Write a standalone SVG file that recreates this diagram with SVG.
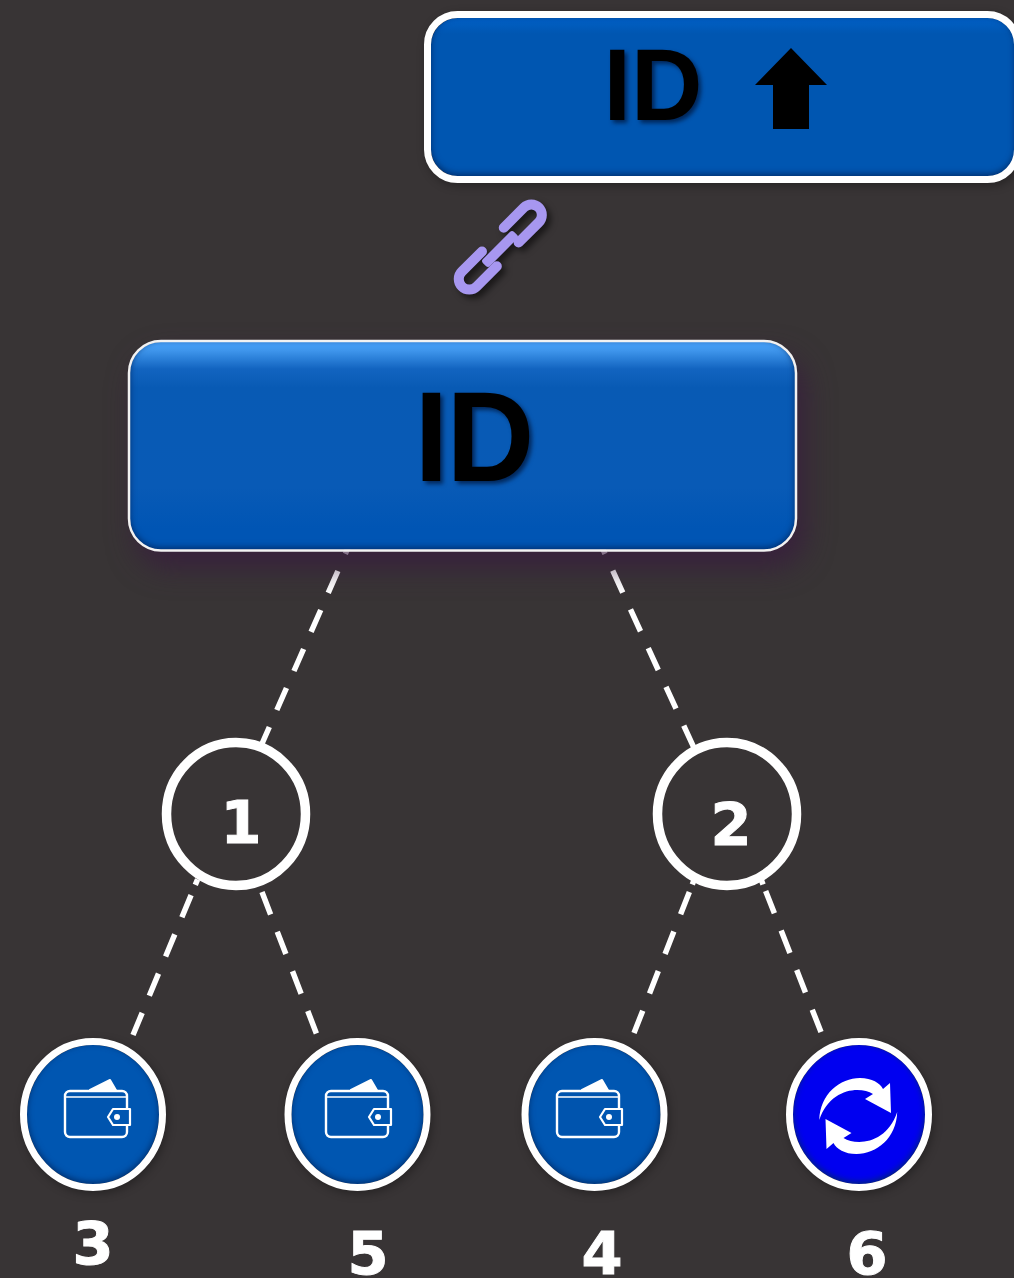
<svg xmlns="http://www.w3.org/2000/svg" xmlns:xlink="http://www.w3.org/1999/xlink" width="1014" height="1278" viewBox="0 0 1014 1278">
<style>
.conn{fill:none;stroke:#fff;stroke-width:5.5}
.dig{font-family:"DejaVu Sans",sans-serif;font-weight:700;font-size:59px;fill:#fff;stroke:#fff;stroke-width:1;text-anchor:middle}
.idt{font-family:"Liberation Sans",Arial,sans-serif;font-weight:700;fill:#000;text-anchor:middle;filter:url(#ts)}
.fill{filter:url(#inset)}
.rim{fill:none;stroke:#fff;stroke-width:7}
.ring{fill:#383435;stroke:#fff;stroke-width:9.5}
.lk{fill:none;stroke:#a797f0;stroke-width:10;stroke-linecap:round}
filter{color-interpolation-filters:sRGB}
</style>
<defs>
<linearGradient id="gTop" x1="0" y1="0" x2="0" y2="1">
<stop offset="0" stop-color="#0060c6"/><stop offset=".1" stop-color="#0056b1"/><stop offset="1" stop-color="#0056b1"/>
</linearGradient>
<linearGradient id="gMain" x1="0" y1="0" x2="0" y2="1">
<stop offset="0" stop-color="#4aa5ff"/><stop offset=".04" stop-color="#3f96ec"/><stop offset=".13" stop-color="#1264c0"/><stop offset=".22" stop-color="#085ab4"/><stop offset=".7" stop-color="#085ab6"/><stop offset=".9" stop-color="#0055b4"/><stop offset="1" stop-color="#0055b4"/>
</linearGradient>
<filter id="inset" x="-10%" y="-10%" width="120%" height="120%">
<feComponentTransfer in="SourceAlpha" result="inv"><feFuncA type="table" tableValues="1 0"/></feComponentTransfer>
<feGaussianBlur in="inv" stdDeviation="3" result="b"/>
<feOffset in="b" dy="-2" result="o"/>
<feFlood flood-color="#002a66" flood-opacity=".9"/>
<feComposite in2="o" operator="in" result="c"/>
<feComposite in="c" in2="SourceAlpha" operator="in" result="ins"/>
<feMerge><feMergeNode in="SourceGraphic"/><feMergeNode in="ins"/></feMerge>
</filter>
<filter id="ts" x="-20%" y="-20%" width="140%" height="140%"><feDropShadow dx="3" dy="3" stdDeviation="2" flood-color="#001a44" flood-opacity=".8"/></filter>
<filter id="ns" x="-10%" y="-10%" width="120%" height="120%"><feDropShadow dx="2" dy="3" stdDeviation="4" flood-color="#000" flood-opacity=".3"/></filter>
<filter id="glow" x="-15%" y="-25%" width="130%" height="170%"><feDropShadow dx="8" dy="16" stdDeviation="14" flood-color="#38183f" flood-opacity=".7"/></filter>
<filter id="ls" x="-20%" y="-20%" width="150%" height="150%"><feDropShadow dx="4" dy="4" stdDeviation="3" flood-color="#000" flood-opacity=".55"/></filter>
<g id="wallet">
<path d="M26 11 L46 1 L53 13 Z" fill="#fff" stroke="#fff" stroke-width="2" stroke-linejoin="round"/>
<rect x="1" y="12" width="62" height="46" rx="5" fill="#0054ae" stroke="#fff" stroke-width="2.400"/>
<path d="M2 18 H62" stroke="#fff" stroke-width="1.600" fill="none"/>
<path d="M44 38 L49 30 H66 V46 H49 Z" fill="#0056b1" stroke="#fff" stroke-width="2.200" stroke-linejoin="round"/>
<circle cx="53" cy="38" r="3" fill="#fff"/>
</g>
<path id="swirl" d="M-38.700 4 C-38 -22 -18 -38 2 -38 C14 -38 22 -33 25 -27 L32 -33 L33 -3 L7 -17 L15 -22 C2 -30 -28 -28 -38.700 4 Z" fill="#fff"/>
</defs>
<rect width="1014" height="1278" fill="#383435"/>
<g id="connectors">
<path class="conn" stroke-dasharray="24 18.600" d="M355 532 L261 746"/>
<path class="conn" stroke-dasharray="24 18.600" d="M595 532 L694 748"/>
<path class="conn" stroke-dasharray="24 18.500 24 18.500 24 18.500 24 11 6 99" d="M133 1035 L199 876"/>
<path class="conn" stroke-dasharray="24 18.500 24 18.500 24 18.500 24 18.500 8 99" d="M262 892 L322 1048"/>
<path class="conn" stroke-dasharray="24 18.500 24 18.500 24 18.500 24 8 9 99" d="M634 1033 L698 870"/>
<path class="conn" stroke-dasharray="24 18.500 24 18.500 24 18.500 24 7 9 99" d="M821 1032 L757 869"/>
</g>
<g id="node-top" filter="url(#ns)">
<rect class="fill" x="431" y="18" width="584" height="158" rx="27" fill="url(#gTop)"/>
<rect class="rim" x="427.500" y="14.500" width="590" height="165" rx="30"/>
<text class="idt" transform="translate(653 119.500) scale(.97 1)" font-size="102">ID</text>
<path d="M755 85 L791 48 L827 85 H809 V129 H773 V85 Z" fill="#000"/>
</g>
<g id="link-icon" filter="url(#ls)">
<path class="lk" transform="translate(542.300 204) rotate(-45)" d="M-44 -10.500 H-15.500 A10.500 10.500 0 0 1 -15.500 10.500 H-44"/>
<path class="lk" transform="translate(458.300 290) rotate(135)" d="M-44 -10.500 H-15.500 A10.500 10.500 0 0 1 -15.500 10.500 H-44"/>
<rect x="-22" y="-5" width="44" height="10" rx="3" transform="translate(500 249) rotate(-45)" fill="#a797f0"/>
</g>
<g id="node-main" filter="url(#glow)">
<rect class="fill" x="130" y="342" width="665" height="207.500" rx="31" fill="url(#gMain)"/>
<rect x="129" y="341" width="667" height="209.500" rx="32" fill="none" stroke="#f2f2f2" stroke-width="2.500"/>
<text class="idt" transform="translate(473.500 481) scale(.95 1)" letter-spacing="-2" font-size="128">ID</text>
</g>
<g id="node-1">
<ellipse class="ring" cx="236" cy="814" rx="69.500" ry="71.500"/>
<text class="dig" x="241" y="843">1</text>
</g>
<g id="node-2">
<ellipse class="ring" cx="727" cy="814" rx="69.500" ry="71.500"/>
<text class="dig" x="731" y="845">2</text>
</g>
<g id="node-3">
<g filter="url(#ns)"><ellipse class="fill" cx="93" cy="1114.500" rx="66" ry="69.500" fill="#0056b1"/>
<ellipse class="rim" cx="93" cy="1114.500" rx="69.500" ry="73"/></g>
<use xlink:href="#wallet" href="#wallet" x="64" y="1079"/>
<text class="dig" x="93" y="1264">3</text>
</g>
<g id="node-5">
<g filter="url(#ns)"><ellipse class="fill" cx="357.500" cy="1114.500" rx="66" ry="69.500" fill="#0056b1"/>
<ellipse class="rim" cx="357.500" cy="1114.500" rx="69.500" ry="73"/></g>
<use xlink:href="#wallet" href="#wallet" x="325" y="1079"/>
<text class="dig" x="368" y="1274">5</text>
</g>
<g id="node-4">
<g filter="url(#ns)"><ellipse class="fill" cx="594.500" cy="1114.500" rx="66" ry="69.500" fill="#0056b1"/>
<ellipse class="rim" cx="594.500" cy="1114.500" rx="69.500" ry="73"/></g>
<use xlink:href="#wallet" href="#wallet" x="556" y="1079"/>
<text class="dig" x="602" y="1274">4</text>
</g>
<g id="node-6">
<g filter="url(#ns)"><ellipse class="fill" cx="859" cy="1114.500" rx="66" ry="69.500" fill="#0000f0"/>
<ellipse class="rim" cx="859" cy="1114.500" rx="69.500" ry="73"/></g>
<use xlink:href="#swirl" href="#swirl" transform="translate(858 1116)"/>
<use xlink:href="#swirl" href="#swirl" transform="translate(858.500 1116) rotate(180)"/>
<text class="dig" x="867" y="1274">6</text>
</g>
</svg>
